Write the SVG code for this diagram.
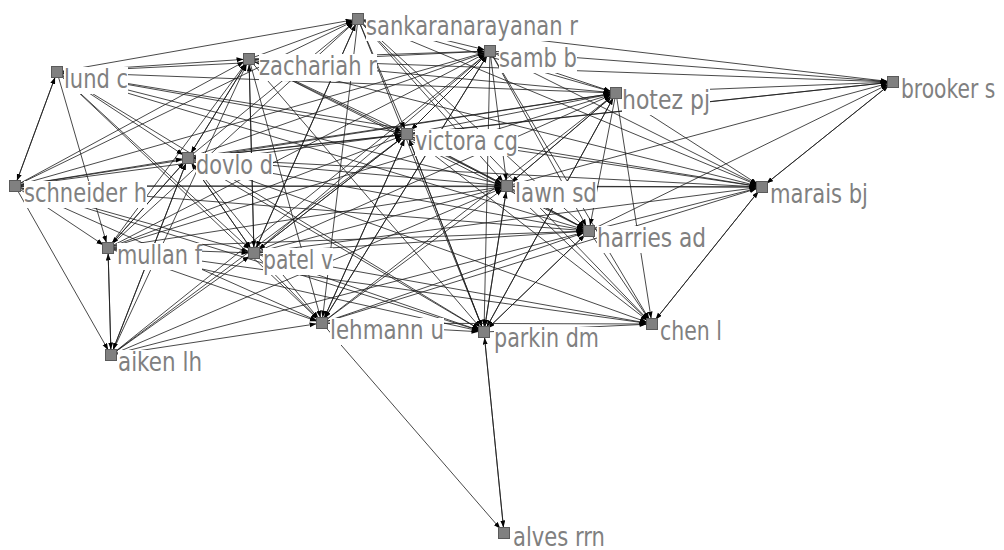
<svg xmlns="http://www.w3.org/2000/svg" width="1004" height="550" viewBox="0 0 1004 550">
<style>
.e line{stroke:#1a1a1a;stroke-width:0.8;marker-end:url(#ah)}
.bg{fill:#fff}
.lb{font-family:"DejaVu Sans",Verdana,sans-serif;font-size:27px;fill:#808080}
.sq{fill:#808080;stroke:#5a5a5a;stroke-width:1}
</style>
<defs>
<marker id="ah" markerUnits="userSpaceOnUse" markerWidth="8" markerHeight="6" refX="12.5" refY="2.5" orient="auto">
<path d="M0,0 L7,2.5 L0,5 z" fill="#000"/>
</marker>
</defs>
<rect width="1004" height="550" fill="#fff"/>
<g class="e" id="connectors">
<line x1="57" y1="72" x2="358" y2="19"/><line x1="249" y1="59" x2="358" y2="19"/><line x1="188" y1="158" x2="358" y2="19"/><line x1="15" y1="186" x2="358" y2="19"/><line x1="254" y1="253" x2="358" y2="19"/><line x1="108" y1="248" x2="358" y2="19"/>
<line x1="57" y1="72" x2="249" y2="59"/><line x1="15" y1="186" x2="249" y2="59"/><line x1="188" y1="158" x2="249" y2="59"/><line x1="108" y1="248" x2="249" y2="59"/><line x1="254" y1="253" x2="249" y2="59"/><line x1="111" y1="355" x2="249" y2="59"/>
<line x1="249" y1="59" x2="490" y2="51"/><line x1="358" y1="19" x2="490" y2="51"/><line x1="57" y1="72" x2="490" y2="51"/><line x1="188" y1="158" x2="490" y2="51"/><line x1="15" y1="186" x2="490" y2="51"/><line x1="407" y1="134" x2="490" y2="51"/><line x1="254" y1="253" x2="490" y2="51"/><line x1="108" y1="248" x2="490" y2="51"/><line x1="322" y1="323" x2="490" y2="51"/><line x1="111" y1="355" x2="490" y2="51"/>
<line x1="490" y1="51" x2="616" y2="93"/><line x1="358" y1="19" x2="616" y2="93"/><line x1="249" y1="59" x2="616" y2="93"/><line x1="407" y1="134" x2="616" y2="93"/><line x1="57" y1="72" x2="616" y2="93"/><line x1="188" y1="158" x2="616" y2="93"/><line x1="507" y1="186" x2="616" y2="93"/><line x1="254" y1="253" x2="616" y2="93"/><line x1="322" y1="323" x2="616" y2="93"/><line x1="484" y1="332" x2="616" y2="93"/><line x1="15" y1="186" x2="616" y2="93"/><line x1="108" y1="248" x2="616" y2="93"/>
<line x1="490" y1="51" x2="893" y2="82"/><line x1="358" y1="19" x2="893" y2="82"/><line x1="616" y1="93" x2="893" y2="82"/><line x1="407" y1="134" x2="893" y2="82"/><line x1="507" y1="186" x2="893" y2="82"/><line x1="589" y1="231" x2="893" y2="82"/><line x1="762" y1="187" x2="893" y2="82"/><line x1="249" y1="59" x2="893" y2="82"/><line x1="188" y1="158" x2="893" y2="82"/>
<line x1="57" y1="72" x2="407" y2="134"/><line x1="249" y1="59" x2="407" y2="134"/><line x1="358" y1="19" x2="407" y2="134"/><line x1="490" y1="51" x2="407" y2="134"/><line x1="188" y1="158" x2="407" y2="134"/><line x1="15" y1="186" x2="407" y2="134"/><line x1="108" y1="248" x2="407" y2="134"/><line x1="254" y1="253" x2="407" y2="134"/><line x1="111" y1="355" x2="407" y2="134"/><line x1="322" y1="323" x2="407" y2="134"/><line x1="484" y1="332" x2="407" y2="134"/>
<line x1="57" y1="72" x2="188" y2="158"/><line x1="15" y1="186" x2="188" y2="158"/><line x1="249" y1="59" x2="188" y2="158"/><line x1="108" y1="248" x2="188" y2="158"/><line x1="111" y1="355" x2="188" y2="158"/><line x1="254" y1="253" x2="188" y2="158"/>
<line x1="57" y1="72" x2="15" y2="186"/><line x1="15" y1="186" x2="57" y2="72"/>
<line x1="407" y1="134" x2="507" y2="186"/><line x1="490" y1="51" x2="507" y2="186"/><line x1="358" y1="19" x2="507" y2="186"/><line x1="249" y1="59" x2="507" y2="186"/><line x1="57" y1="72" x2="507" y2="186"/><line x1="188" y1="158" x2="507" y2="186"/><line x1="15" y1="186" x2="507" y2="186"/><line x1="254" y1="253" x2="507" y2="186"/><line x1="108" y1="248" x2="507" y2="186"/><line x1="322" y1="323" x2="507" y2="186"/><line x1="484" y1="332" x2="507" y2="186"/><line x1="616" y1="93" x2="507" y2="186"/><line x1="111" y1="355" x2="507" y2="186"/>
<line x1="616" y1="93" x2="762" y2="187"/><line x1="490" y1="51" x2="762" y2="187"/><line x1="407" y1="134" x2="762" y2="187"/><line x1="507" y1="186" x2="762" y2="187"/><line x1="589" y1="231" x2="762" y2="187"/><line x1="249" y1="59" x2="762" y2="187"/><line x1="57" y1="72" x2="762" y2="187"/><line x1="188" y1="158" x2="762" y2="187"/><line x1="15" y1="186" x2="762" y2="187"/><line x1="254" y1="253" x2="762" y2="187"/><line x1="652" y1="324" x2="762" y2="187"/><line x1="893" y1="82" x2="762" y2="187"/><line x1="358" y1="19" x2="762" y2="187"/><line x1="322" y1="323" x2="762" y2="187"/>
<line x1="507" y1="186" x2="589" y2="231"/><line x1="407" y1="134" x2="589" y2="231"/><line x1="490" y1="51" x2="589" y2="231"/><line x1="616" y1="93" x2="589" y2="231"/><line x1="249" y1="59" x2="589" y2="231"/><line x1="188" y1="158" x2="589" y2="231"/><line x1="57" y1="72" x2="589" y2="231"/><line x1="15" y1="186" x2="589" y2="231"/><line x1="254" y1="253" x2="589" y2="231"/><line x1="108" y1="248" x2="589" y2="231"/><line x1="322" y1="323" x2="589" y2="231"/><line x1="484" y1="332" x2="589" y2="231"/><line x1="358" y1="19" x2="589" y2="231"/><line x1="111" y1="355" x2="589" y2="231"/>
<line x1="15" y1="186" x2="108" y2="248"/><line x1="57" y1="72" x2="108" y2="248"/><line x1="111" y1="355" x2="108" y2="248"/><line x1="188" y1="158" x2="108" y2="248"/>
<line x1="108" y1="248" x2="254" y2="253"/><line x1="15" y1="186" x2="254" y2="253"/><line x1="188" y1="158" x2="254" y2="253"/><line x1="249" y1="59" x2="254" y2="253"/><line x1="57" y1="72" x2="254" y2="253"/><line x1="111" y1="355" x2="254" y2="253"/><line x1="358" y1="19" x2="254" y2="253"/><line x1="407" y1="134" x2="254" y2="253"/>
<line x1="57" y1="72" x2="322" y2="323"/><line x1="188" y1="158" x2="322" y2="323"/><line x1="15" y1="186" x2="322" y2="323"/><line x1="108" y1="248" x2="322" y2="323"/><line x1="254" y1="253" x2="322" y2="323"/><line x1="249" y1="59" x2="322" y2="323"/><line x1="407" y1="134" x2="322" y2="323"/><line x1="358" y1="19" x2="322" y2="323"/><line x1="111" y1="355" x2="322" y2="323"/><line x1="490" y1="51" x2="322" y2="323"/>
<line x1="322" y1="323" x2="484" y2="332"/><line x1="358" y1="19" x2="484" y2="332"/><line x1="249" y1="59" x2="484" y2="332"/><line x1="407" y1="134" x2="484" y2="332"/><line x1="507" y1="186" x2="484" y2="332"/><line x1="188" y1="158" x2="484" y2="332"/><line x1="254" y1="253" x2="484" y2="332"/><line x1="108" y1="248" x2="484" y2="332"/><line x1="57" y1="72" x2="484" y2="332"/><line x1="616" y1="93" x2="484" y2="332"/><line x1="490" y1="51" x2="484" y2="332"/><line x1="504" y1="533" x2="484" y2="332"/><line x1="15" y1="186" x2="484" y2="332"/><line x1="589" y1="231" x2="484" y2="332"/>
<line x1="762" y1="187" x2="652" y2="324"/><line x1="589" y1="231" x2="652" y2="324"/><line x1="507" y1="186" x2="652" y2="324"/><line x1="616" y1="93" x2="652" y2="324"/><line x1="407" y1="134" x2="652" y2="324"/><line x1="490" y1="51" x2="652" y2="324"/><line x1="254" y1="253" x2="652" y2="324"/><line x1="108" y1="248" x2="652" y2="324"/><line x1="484" y1="332" x2="652" y2="324"/><line x1="322" y1="323" x2="652" y2="324"/><line x1="188" y1="158" x2="652" y2="324"/><line x1="358" y1="19" x2="652" y2="324"/>
<line x1="15" y1="186" x2="111" y2="355"/><line x1="108" y1="248" x2="111" y2="355"/><line x1="188" y1="158" x2="111" y2="355"/>
<line x1="484" y1="332" x2="504" y2="533"/><line x1="322" y1="323" x2="504" y2="533"/>
</g>
<g id="n-lund"><rect class="bg" x="64" y="67" width="64" height="27"/><text class="lb" x="64" y="88" textLength="64" lengthAdjust="spacingAndGlyphs">lund c</text><rect class="sq" x="51.5" y="66.5" width="11" height="11"/></g>
<g id="n-zachariah"><rect class="bg" x="259" y="54" width="118" height="27"/><text class="lb" x="259" y="75" textLength="118" lengthAdjust="spacingAndGlyphs">zachariah r</text><rect class="sq" x="243.5" y="53.5" width="11" height="11"/></g>
<g id="n-sankaranarayanan"><rect class="bg" x="366" y="14" width="212" height="27"/><text class="lb" x="366" y="35" textLength="212" lengthAdjust="spacingAndGlyphs">sankaranarayanan r</text><rect class="sq" x="352.5" y="13.5" width="11" height="11"/></g>
<g id="n-samb"><rect class="bg" x="499" y="46" width="78" height="27"/><text class="lb" x="499" y="67" textLength="78" lengthAdjust="spacingAndGlyphs">samb b</text><rect class="sq" x="484.5" y="45.5" width="11" height="11"/></g>
<g id="n-hotez"><rect class="bg" x="622" y="88" width="88" height="27"/><text class="lb" x="622" y="109" textLength="88" lengthAdjust="spacingAndGlyphs">hotez pj</text><rect class="sq" x="610.5" y="87.5" width="11" height="11"/></g>
<g id="n-brooker"><rect class="bg" x="901" y="77" width="96" height="27"/><text class="lb" transform="translate(901 98) scale(0.75 1)" x="0" y="0">brooker s</text><rect class="sq" x="887.5" y="76.5" width="11" height="11"/></g>
<g id="n-victora"><rect class="bg" x="415" y="129" width="103" height="27"/><text class="lb" x="415" y="150" textLength="103" lengthAdjust="spacingAndGlyphs">victora cg</text><rect class="sq" x="401.5" y="128.5" width="11" height="11"/></g>
<g id="n-dovlo"><rect class="bg" x="196" y="153" width="77" height="27"/><text class="lb" x="196" y="174" textLength="77" lengthAdjust="spacingAndGlyphs">dovlo d</text><rect class="sq" x="182.5" y="152.5" width="11" height="11"/></g>
<g id="n-schneider"><rect class="bg" x="24" y="181" width="123" height="27"/><text class="lb" x="24" y="202" textLength="123" lengthAdjust="spacingAndGlyphs">schneider h</text><rect class="sq" x="9.5" y="180.5" width="11" height="11"/></g>
<g id="n-lawn"><rect class="bg" x="515" y="181" width="82" height="27"/><text class="lb" x="515" y="202" textLength="82" lengthAdjust="spacingAndGlyphs">lawn sd</text><rect class="sq" x="501.5" y="180.5" width="11" height="11"/></g>
<g id="n-marais"><rect class="bg" x="770" y="182" width="98" height="27"/><text class="lb" x="770" y="203" textLength="98" lengthAdjust="spacingAndGlyphs">marais bj</text><rect class="sq" x="756.5" y="181.5" width="11" height="11"/></g>
<g id="n-harries"><rect class="bg" x="597" y="226" width="109" height="27"/><text class="lb" x="597" y="247" textLength="109" lengthAdjust="spacingAndGlyphs">harries ad</text><rect class="sq" x="583.5" y="225.5" width="11" height="11"/></g>
<g id="n-mullan"><rect class="bg" x="117" y="243" width="85" height="27"/><text class="lb" x="117" y="264" textLength="85" lengthAdjust="spacingAndGlyphs">mullan f</text><rect class="sq" x="102.5" y="242.5" width="11" height="11"/></g>
<g id="n-patel"><rect class="bg" x="263" y="248" width="70" height="27"/><text class="lb" x="263" y="269" textLength="70" lengthAdjust="spacingAndGlyphs">patel v</text><rect class="sq" x="248.5" y="247.5" width="11" height="11"/></g>
<g id="n-lehmann"><rect class="bg" x="330" y="318" width="114" height="27"/><text class="lb" x="330" y="339" textLength="114" lengthAdjust="spacingAndGlyphs">lehmann u</text><rect class="sq" x="316.5" y="317.5" width="11" height="11"/></g>
<g id="n-parkin"><rect class="bg" x="494" y="327" width="105" height="27"/><text class="lb" x="494" y="347" textLength="105" lengthAdjust="spacingAndGlyphs">parkin dm</text><rect class="sq" x="478.5" y="326.5" width="11" height="11"/></g>
<g id="n-chen"><rect class="bg" x="660" y="319" width="62" height="27"/><text class="lb" x="660" y="340" textLength="62" lengthAdjust="spacingAndGlyphs">chen l</text><rect class="sq" x="646.5" y="318.5" width="11" height="11"/></g>
<g id="n-aiken"><rect class="bg" x="118" y="350" width="84" height="27"/><text class="lb" x="118" y="371" textLength="84" lengthAdjust="spacingAndGlyphs">aiken lh</text><rect class="sq" x="105.5" y="349.5" width="11" height="11"/></g>
<g id="n-alves"><rect class="bg" x="513" y="527" width="92" height="23"/><text class="lb" x="513" y="546" textLength="92" lengthAdjust="spacingAndGlyphs">alves rrn</text><rect class="sq" x="498.5" y="527.5" width="11" height="11"/></g>
</svg>
